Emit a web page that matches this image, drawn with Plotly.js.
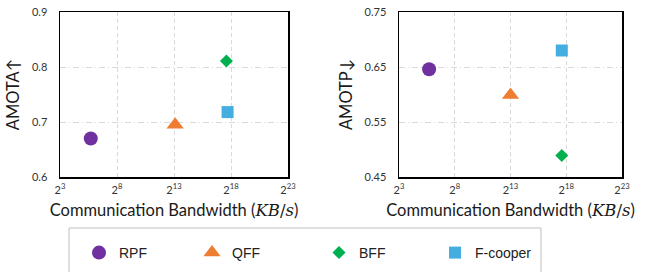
<!DOCTYPE html>
<html><head><meta charset="utf-8">
<script src="https://cdn.plot.ly/plotly-3.0.1.min.js"></script>
<style>html,body{margin:0;padding:0;background:#fff}#chart{width:646px;height:272px}</style>
</head><body><div id="chart"></div>
<script>
// Data
const methods = ['RPF', 'QFF', 'BFF', 'F-cooper'];
// communication bandwidth, as log2(KB/s)
const bandwidthLog2 = [5.7, 13.1, 17.6, 17.7];
const bandwidthLog2Right = [5.7, 13.0, 17.6, 17.6];
const amota = [0.670, 0.695, 0.811, 0.718];
const amotp = [0.646, 0.599, 0.489, 0.680];
const xTickExp = [3, 8, 13, 18, 23];
const amotaTicks = [0.6, 0.7, 0.8, 0.9];
const amotpTicks = [0.45, 0.55, 0.65, 0.75];

const colors = ['#7030A0', '#ED7D31', '#00B050', '#44AEE0'];
const symbols = ['circle', 'triangle-up', 'diamond', 'square'];
const sizes = [14, 15, 10, 12];
const legendNames = ['legend', 'legend2', 'legend3', 'legend4'];

const traces = [];
methods.forEach((m, i) => {
  traces.push({
    type: 'scatter', mode: 'markers', name: m,
    x: [Math.pow(2, bandwidthLog2[i])], y: [amota[i]],
    xaxis: 'x', yaxis: 'y',
    marker: {color: colors[i], symbol: symbols[i], size: sizes[i], line: {width: 0}},
    legend: legendNames[i], showlegend: true
  });
  traces.push({
    type: 'scatter', mode: 'markers', name: m,
    x: [Math.pow(2, bandwidthLog2Right[i])], y: [amotp[i]],
    xaxis: 'x2', yaxis: 'y2',
    marker: {color: colors[i], symbol: symbols[i], size: sizes[i], line: {width: 0}},
    showlegend: false
  });
});

const W = 646, H = 272;
const tickFont = {family: 'Lato, "Open Sans", sans-serif', size: 11, color: '#333'};
const titleFont = {family: 'Lato, "Open Sans", sans-serif', size: 16.5, color: '#1a1a1a'};
const xTitle = 'Communication Bandwidth (<span style="font-family:\'DejaVu Serif\',serif;font-style:italic">KB</span><span style="font-family:\'DejaVu Serif\',serif">/</span><span style="font-family:\'DejaVu Serif\',serif;font-style:italic">s</span>)';

function xAxis(domain, anchor) {
  return {
    domain: domain, anchor: anchor, type: 'log',
    range: [Math.log10(Math.pow(2, 3)), Math.log10(Math.pow(2, 23))],
    tickmode: 'array',
    tickvals: xTickExp.map(e => Math.pow(2, e)),
    ticktext: xTickExp.map(e => '2<sup>' + e + '</sup>'),
    tickfont: tickFont, ticks: '', ticklabelstandoff: 2,
    showgrid: true, gridcolor: '#d9d9d9', griddash: '4px,3px', gridwidth: 1,
    showline: true, linecolor: '#000', linewidth: 1.5, mirror: true,
    zeroline: false,
    title: {text: xTitle, font: titleFont, standoff: 9}
  };
}
function yAxis(domain, anchor, range, ticks, title) {
  return {
    domain: domain, anchor: anchor, range: range,
    tickmode: 'array', tickvals: ticks, ticktext: ticks.map(v => v.toString()),
    tickfont: tickFont, ticks: '', ticklabelstandoff: 9,
    showgrid: true, gridcolor: '#d9d9d9', griddash: '6px,3px,1px,3px', gridwidth: 1,
    showline: true, linecolor: '#000', linewidth: 1.5, mirror: true,
    zeroline: false,
    title: {text: title, font: titleFont, standoff: 8}
  };
}

const yDom = [1 - 177 / H, 1 - 12 / H];
const legendTop = 1 - 237 / H;
const legX = [79, 192, 319, 435];
const legendFont = {family: '"Liberation Sans", Arial, sans-serif', size: 14, color: '#222'};
const layout = {
  width: W, height: H,
  margin: {l: 0, r: 0, t: 0, b: 0},
  paper_bgcolor: '#fff', plot_bgcolor: '#fff',
  xaxis: xAxis([60 / W, 288 / W], 'y'),
  yaxis: yAxis(yDom, 'x', [0.6, 0.9], amotaTicks, 'AMOTA↑'),
  xaxis2: xAxis([399 / W, 622 / W], 'y2'),
  yaxis2: yAxis(yDom, 'x2', [0.45, 0.75], amotpTicks, 'AMOTP↓'),
  shapes: [{
    type: 'rect', xref: 'paper', yref: 'paper',
    x0: 69 / W, x1: 541 / W, y0: -0.05, y1: 1 - 228 / H,
    line: {color: '#bfbfbf', width: 1}, fillcolor: 'rgba(0,0,0,0)'
  }],
  showlegend: true
};
legendNames.forEach((ln, i) => {
  layout[ln] = {
    x: legX[i] / W, y: legendTop, xanchor: 'left', yanchor: 'top',
    bgcolor: 'rgba(0,0,0,0)', borderwidth: 0, font: legendFont,
    orientation: 'h', itemsizing: 'trace'
  };
});

Plotly.newPlot('chart', traces, layout, {displayModeBar: false, staticPlot: true});
</script>
</body></html>
